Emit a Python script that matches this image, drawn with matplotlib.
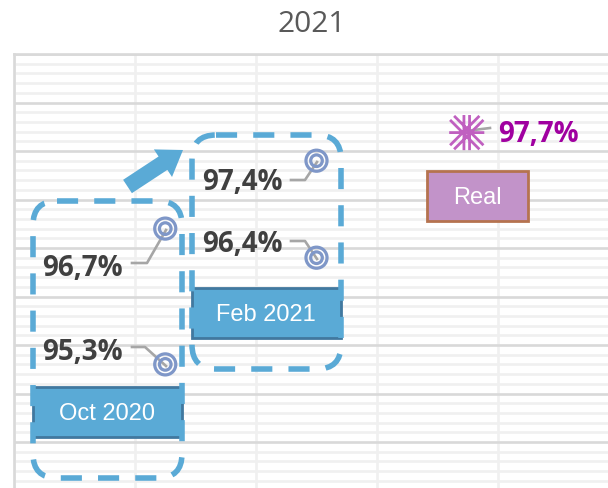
import matplotlib
matplotlib.use('Agg')
import matplotlib.pyplot as plt
from matplotlib.patches import FancyBboxPatch, FancyArrow, Rectangle
from matplotlib.path import Path
from matplotlib.ticker import MultipleLocator

# Values
categories = ['Oct 2020', 'Feb 2021', 'Real']
x_pos = [1.25, 2.5, 3.75]
high_values = [96.7, 97.4]
low_values = [95.3, 96.4]
real_value = [97.7]
high_labels = ['96,7%', '97,4%']
low_labels = ['95,3%', '96,4%']
real_label = '97,7%'

BLUE = '#5aaad6'
BLUE_EDGE = '#41789f'
RING = '#7f97c8'
GRAY = '#a6a6a6'
TEXT = '#404040'
PURPLE = '#a000a0'

fig = plt.figure(figsize=(6.08, 4.88), dpi=100)
ax = fig.add_axes([14 / 608, 0, 594 / 608, 434 / 488])
ax.set_xlim(0, 594 / 121)
ax.set_ylim(98.5 - 434 / 97, 98.5)

# Grid
ax.xaxis.set_major_locator(MultipleLocator(1))
ax.yaxis.set_major_locator(MultipleLocator(0.5))
ax.yaxis.set_minor_locator(MultipleLocator(0.1))
ax.tick_params(which='both', length=0, labelbottom=False, labelleft=False)
ax.grid(axis='y', which='minor', color='#f0f0f0', lw=1.9)
ax.grid(axis='y', which='major', color='#d9d9d9', lw=1.9)
ax.grid(axis='x', which='major', color='#f0f0f0', lw=1.9)
ax.set_axisbelow(True)
for side in ['right', 'bottom']:
    ax.spines[side].set_visible(False)
for side in ['left', 'top']:
    ax.spines[side].set_color('#d9d9d9')
    ax.spines[side].set_linewidth(1.9)

# Overlay in pixel coordinates for the hand drawn shapes
over = fig.add_axes([0, 0, 1, 1], facecolor='none')
over.set_xlim(0, 608)
over.set_ylim(488, 0)
over.axis('off')

# Category boxes
over.add_patch(Rectangle((33, 387), 149, 50, fc=BLUE, ec=BLUE_EDGE, lw=2))
over.add_patch(Rectangle((192, 288), 149, 50, fc=BLUE, ec=BLUE_EDGE, lw=2))
over.add_patch(Rectangle((427, 171), 101, 50, fc='#c293c9', ec='#b5734f', lw=2))
box_font = dict(color='white', fontsize=17, family='Liberation Sans', ha='center', va='center')
over.text(107, 414, categories[0], **box_font)
over.text(266, 315, categories[1], **box_font)
over.text(477.5, 198, categories[2], **box_font)

# Dashed rounded frames
for x0, y0, w, h in [(33, 201, 149, 277), (192, 135, 149, 234)]:
    over.add_patch(FancyBboxPatch((x0 + 24, y0 + 24), w - 48, h - 48,
                                  boxstyle='round,pad=24,rounding_size=24',
                                  fc='none', ec=BLUE, lw=4,
                                  ls=(0, (3.8, 2.9)), capstyle='butt'))

# Arrow between the two forecasts
over.add_patch(FancyArrow(127.5, 186.5, 55.5, -36.5, width=16, head_width=33,
                          head_length=24, length_includes_head=True,
                          fc=BLUE, ec='none'))

# Leader lines
leaders = [[(132, 263), (147, 263), (166, 230)],
           [(132, 347), (145, 347), (166, 366)],
           [(291, 180), (305, 180), (317, 162)],
           [(291, 241), (305, 241), (317, 259)],
           [(466, 131), (490, 128)]]
for pts in leaders:
    over.plot([p[0] for p in pts], [p[1] for p in pts], color=GRAY, lw=1.9, zorder=3)

# Data markers, drawn on the data axes' scale
over_pts = ax.transData + over.transData.inverted()
for vals in [high_values, low_values]:
    xy = over_pts.transform(list(zip(x_pos, vals)))
    over.scatter(xy[:, 0], xy[:, 1], s=230, fc='none', ec=RING, lw=2.3, zorder=4)
    over.scatter(xy[:, 0], xy[:, 1], s=70, fc='none', ec=RING, lw=2.3, zorder=4)

# Double lined star marker for the real value
verts, codes = [], []
for a, b in [((-0.16, -1), (-0.16, 1)),
             ((0.16, -1), (0.16, 1)),
             ((-0.95, -0.72), (0.72, 0.95)),
             ((-0.72, -0.95), (0.95, 0.72)),
             ((-0.95, 0.72), (0.72, -0.95)),
             ((-0.72, 0.95), (0.95, -0.72)),
             ((-1, 0), (1, 0))]:
    verts += [a, b]
    codes += [Path.MOVETO, Path.LINETO]
star = Path(verts, codes)
xy = over_pts.transform([(x_pos[2], real_value[0])])
over.scatter(xy[:, 0] - 1, xy[:, 1] + 1, s=640, marker=star, fc='none', ec='#c060c0', lw=2, zorder=4)

# Value labels
lab_font = dict(color=TEXT, fontsize=20, family='Open Sans', weight='bold', va='center', ha='left')
over.text(42, 268, high_labels[0], **lab_font)
over.text(42, 352, low_labels[0], **lab_font)
over.text(202, 183, high_labels[1], **lab_font)
over.text(202, 244, low_labels[1], **lab_font)
over.text(498, 134, real_label, **{**lab_font, 'color': PURPLE})

over.text(312, 25, '2021', color='#595959', fontsize=21.5, family='Open Sans', ha='center', va='center')

fig.savefig('out.png', dpi=100)
